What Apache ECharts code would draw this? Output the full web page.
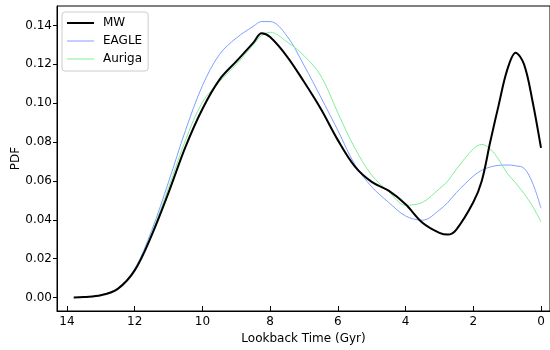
<!DOCTYPE html>
<html>
<head>
<meta charset="utf-8">
<script src="https://cdn.jsdelivr.net/npm/echarts@6/dist/echarts.min.js"></script>
<style>
  html, body { margin: 0; padding: 0; background: #fff; }
  #myChart { width: 550px; height: 350px; }
</style>
</head>
<body>
<div id="myChart"></div>
<script>
// lookback time (Gyr), shared by all three curves
const times = [13.8, 13.5, 13.0, 12.5, 12.0, 11.5, 11.0, 10.5, 10.0, 9.5, 9.0, 8.5, 8.25, 8.0, 7.5, 7.0, 6.5, 6.0, 5.5, 5.0, 4.5, 4.0, 3.5, 3.0, 2.75, 2.5, 2.0, 1.75, 1.5, 1.25, 1.0, 0.75, 0.5, 0.25, 0.0]
const mwPdf = [0.0000, 0.0003, 0.0012, 0.0045, 0.0140, 0.0320, 0.0540, 0.0775, 0.0970, 0.1120, 0.1215, 0.1310, 0.1360, 0.1340, 0.1240, 0.1110, 0.0970, 0.0810, 0.0675, 0.0595, 0.0550, 0.0480, 0.0385, 0.0333, 0.0324, 0.0350, 0.0490, 0.0600, 0.0800, 0.0990, 0.1170, 0.1260, 0.1200, 0.1010, 0.0770]
const eaglePdf = [0.0000, 0.0003, 0.0013, 0.0048, 0.0148, 0.0345, 0.0595, 0.0860, 0.1090, 0.1250, 0.1335, 0.1395, 0.1420, 0.1420, 0.1345, 0.1195, 0.1030, 0.0860, 0.0685, 0.0570, 0.0490, 0.0420, 0.0398, 0.0450, 0.0490, 0.0540, 0.0625, 0.0655, 0.0672, 0.0680, 0.0682, 0.0678, 0.0665, 0.0590, 0.0460]
const aurigaPdf = [0.0000, 0.0003, 0.0013, 0.0047, 0.0143, 0.0330, 0.0565, 0.0810, 0.1005, 0.1110, 0.1200, 0.1300, 0.1348, 0.1365, 0.1315, 0.1245, 0.1140, 0.0950, 0.0770, 0.0630, 0.0545, 0.0475, 0.0490, 0.0560, 0.0600, 0.0660, 0.0765, 0.0788, 0.0765, 0.0710, 0.0640, 0.0590, 0.0535, 0.0470, 0.0390]

const xTicks = [0, 2, 4, 6, 8, 10, 12, 14]
const yTicks = [0, 0.02, 0.04, 0.06, 0.08, 0.10, 0.12, 0.14]

function pairs (ys) {
  return times.map((t, i) => [t, ys[i]])
}

const font = 'DejaVu Sans'
const eagleColor = '#7f9fff'
const aurigaColor = '#80ee99'

let myChart = echarts.init(document.getElementById('myChart'))
myChart.setOption({
  animation: false,
  textStyle: { fontFamily: font },
  grid: {
    left: 57,
    right: 0,
    top: 6,
    bottom: 34,
    show: true,
    borderColor: '#000',
    borderWidth: 1
  },
  legend: {
    orient: 'vertical',
    left: 62,
    top: 12,
    padding: [5, 6, 6, 5],
    itemGap: 6,
    itemWidth: 27,
    itemHeight: 14,
    symbolKeepAspect: true,
    backgroundColor: '#fff',
    borderColor: '#cccccc',
    borderWidth: 1,
    borderRadius: 3,
    textStyle: { fontFamily: font, fontSize: 12, color: '#000', padding: [0, 0, 0, 4] },
    data: [
      { name: 'MW', icon: 'path://M0,0H27V2H0Z', itemStyle: { color: '#000' } },
      { name: 'EAGLE', icon: 'path://M0,0H27V1H0Z', itemStyle: { color: eagleColor } },
      { name: 'Auriga', icon: 'path://M0,0H27V1H0Z', itemStyle: { color: aurigaColor } }
    ]
  },
  xAxis: {
    type: 'value',
    inverse: true,
    min: -0.266,
    max: 14.295,
    name: 'Lookback Time (Gyr)',
    nameLocation: 'middle',
    nameGap: 22,
    nameTextStyle: { fontFamily: font, fontSize: 12, color: '#000' },
    splitLine: { show: false },
    axisLine: { onZero: false, lineStyle: { color: '#000', width: 1 } },
    axisTick: { show: true, inside: true, length: 5, customValues: xTicks, lineStyle: { color: '#000' } },
    axisLabel: { customValues: xTicks, margin: 5, fontSize: 12, color: '#000', fontFamily: font }
  },
  yAxis: {
    type: 'value',
    min: -0.0069,
    max: 0.15,
    name: 'PDF',
    nameLocation: 'middle',
    nameGap: 35,
    nameMoveOverlap: false,
    nameTextStyle: { fontFamily: font, fontSize: 12, color: '#000' },
    splitLine: { show: false },
    axisLine: { show: true, onZero: false, lineStyle: { color: '#000', width: 1 } },
    axisTick: { show: true, length: 4, customValues: yTicks, lineStyle: { color: '#000' } },
    axisLabel: {
      customValues: yTicks,
      margin: 5,
      fontSize: 12,
      color: '#000',
      fontFamily: font,
      formatter: v => v.toFixed(2)
    }
  },
  series: [
    {
      name: 'MW',
      type: 'line',
      data: pairs(mwPdf),
      symbol: 'none',
      smooth: 0.35,
      lineStyle: { color: '#000', width: 2 },
      itemStyle: { color: '#000' },
      z: 5
    },
    {
      name: 'EAGLE',
      type: 'line',
      data: pairs(eaglePdf),
      symbol: 'none',
      smooth: 0.35,
      lineStyle: { color: eagleColor, width: 1 },
      itemStyle: { color: eagleColor }
    },
    {
      name: 'Auriga',
      type: 'line',
      data: pairs(aurigaPdf),
      symbol: 'none',
      smooth: 0.35,
      lineStyle: { color: aurigaColor, width: 1 },
      itemStyle: { color: aurigaColor }
    }
  ]
})
</script>
</body>
</html>
